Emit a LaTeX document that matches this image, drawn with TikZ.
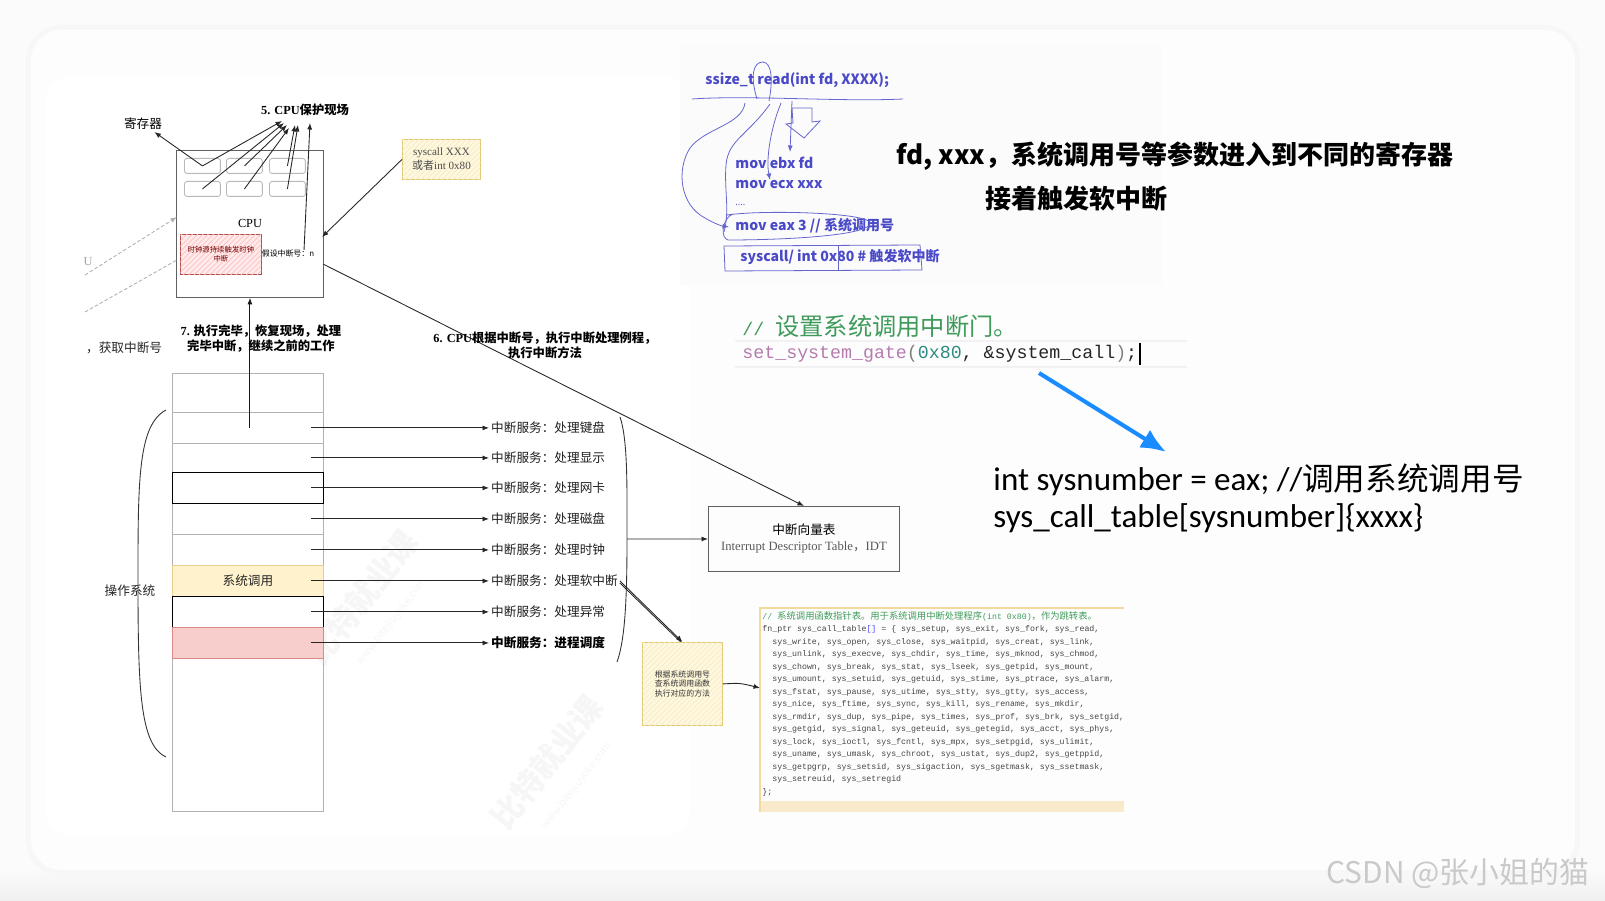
\documentclass[tikz,border=0pt]{standalone}
\usepackage{fontspec}
\setmainfont{Noto Sans CJK SC}
\setmonofont{Liberation Mono}
\newfontfamily\tnr{Liberation Serif}
\newfontfamily\calfont{Carlito}
\usetikzlibrary{arrows.meta,patterns,positioning}

\definecolor{handblue}{HTML}{4A4AC8}
\definecolor{notefill}{HTML}{FFF8DC}
\definecolor{notedraw}{HTML}{E2C76E}
\definecolor{sysfill}{HTML}{FFF2CC}
\definecolor{sysdraw}{HTML}{E6CF8A}
\definecolor{pinkfill}{HTML}{F8CECC}
\definecolor{pinkdraw}{HTML}{D98A88}
\definecolor{cmtgreen}{HTML}{3F9B5B}
\definecolor{fngate}{HTML}{B57BAE}
\definecolor{numteal}{HTML}{2E8C80}
\definecolor{bluearrow}{HTML}{1A8CFF}
\definecolor{tbledge}{HTML}{F2D9A0}

\begin{document}
\begin{tikzpicture}[x=0.02cm,y=-0.02cm,line width=0.5pt,>={Latex[length=1.3mm,width=1mm]},
  box/.style={draw=gray!75!black,inner sep=0,anchor=north west},
  cell/.style={draw=gray!60,inner sep=0,anchor=north west,minimum width=3.02cm},
  reg/.style={draw=gray!55,rounded corners=1.5pt,inner sep=0,anchor=north west,minimum width=0.72cm,minimum height=0.3cm},
  lbl/.style={font=\fontsize{7.2}{8.6}\selectfont,inner sep=1pt},
  steplbl/.style={font=\fontsize{7}{8.6}\selectfont\bfseries,align=center,inner sep=1pt},
  tinylbl/.style={font=\fontsize{4.5}{5.6}\selectfont,align=center,inner sep=0},
  note/.style={draw=notedraw,fill=notefill,postaction={pattern=north east lines,pattern color=notedraw!35},inner sep=0,anchor=north west,align=center},
  hand/.style={handblue!85,line width=0.45pt},
  handtxt/.style={text=handblue,font=\fontsize{8}{9}\selectfont\bfseries,anchor=west,inner sep=0},
  big/.style={font=\fontsize{14.8}{17}\selectfont\bfseries,inner sep=0},
  wm/.style={text=gray!7,font=\fontsize{18}{20}\selectfont\bfseries,rotate=52,inner sep=0},
  wmurl/.style={text=gray!7,font=\fontsize{6}{7}\selectfont,rotate=52,inner sep=0}]
  \useasboundingbox (0,0) rectangle (1605,901);
  % fond et carte
  \fill[gray!3] (0,0) rectangle (1605,901);
  \shade[top color=gray!3,bottom color=gray!12] (0,868) rectangle (1605,901);
  \fill[gray!6,rounded corners=20pt] (26,25) rectangle (1580,876);
  \fill[gray!1.5,rounded corners=17pt] (31,30) rectangle (1575,870);
  \fill[white,rounded corners=14pt] (45,77) rectangle (690,835);
  \fill[gray!3.5] (680,45) rectangle (1162,285);
  \fill[gray!1.5] (715,305) rectangle (1260,382);
  \node[wm] (wm1) at (362,598) {比特就业课};
  \node[wmurl] (wm1u) at (392,622) {www.bitejiuyeke.com};
  \node[wm] (wm2) at (547,762) {比特就业课};
  \node[wmurl] (wm2u) at (577,786) {www.bitejiuyeke.com};

  % CPU
  \node[box,minimum width=2.94cm,minimum height=2.94cm] (cpu) at (176,150) {};
  \foreach \c/\x in {1/184,2/226,3/269}
    \foreach \r/\y in {1/158,2/181}
      \node[reg] (r\r\c) at (\x,\y) {};
  \node[lbl,font=\tnr\fontsize{7}{8}\selectfont] (cpulbl) at (250,223) {CPU};
  \node[anchor=north west,draw=red!55!black!70,fill=red!8,postaction={pattern=north east lines,pattern color=red!25},
    minimum width=1.62cm,minimum height=0.8cm,inner sep=0,align=center,text=red!45!black,
    font=\fontsize{4.2}{5.4}\selectfont] (clk) at (180,234) {时钟源持续触发时钟\\中断};
  \node[tinylbl] (irqn) at (288,254) {假设中断号：n};
  \node[steplbl] (save) at (305,110) {{\tnr 5. CPU}保护现场};
  \node[lbl] (regs) at (143,124) {寄存器};
  \coordinate (t1) at (282,121); \coordinate (t2) at (284,123); \coordinate (t3) at (287,125);
  \coordinate (t4) at (289,128); \coordinate (t5) at (295,125); \coordinate (t6) at (298,125);
  \coordinate (t7) at (310,123);
  \foreach \r/\t in {r11/t1,r21/t2,r12/t3,r22/t4,r13/t5,r23/t6}
    \draw[->,gray!30!black] (\r.center) -- (\t);
  \draw[->,gray!30!black] (r11.center) -- (regs);
  \draw[->,gray!30!black] ([xshift=-6pt]irqn.north east) -- (t7);
  % syscall
  \node[note,minimum width=1.56cm,minimum height=0.8cm,text=gray!60!black,font=\fontsize{6.3}{8}\selectfont] (sys) at (402,139)
    {{\tnr syscall XXX}\\或者{\tnr int 0x80}};
  \coordinate (cpuin) at (322,237);
  \draw[->,gray!30!black] (sys.west) -- (cpuin);
  \coordinate (d1) at (85,275); \coordinate (d1e) at (177,217);
  \coordinate (d2) at (85,312); \coordinate (d2e) at (177,260);
  \draw[->,gray!60,dash pattern=on 2pt off 1.2pt] (d1) -- (d1e);
  \draw[gray!60,dash pattern=on 2pt off 1.2pt] (d2) -- (d2e);
  \node[lbl,font=\tnr\fontsize{7}{8}\selectfont,text=gray!70] (u) at (88,262) {U};
  \node[lbl,anchor=west,text=gray!30!black] (getn) at (84,348) {，获取中断号};

  % pile
  \foreach \n/\y/\h in {s0/373/39,s1/412/31,s2/443/29,s4/503/31,s5/534/31,s9/658/153}
    \node[cell,minimum height=\h*0.02cm] (\n) at (172,\y) {};
  \node[cell,draw=black,minimum height=0.62cm] (s3) at (172,472) {};
  \node[cell,draw=sysdraw,fill=sysfill,minimum height=0.62cm,font=\fontsize{7.2}{8.6}\selectfont,text=gray!30!black] (s6) at (172,565) {系统调用};
  \node[cell,draw=black,minimum height=0.62cm] (s7) at (172,596) {};
  \node[cell,draw=pinkdraw,fill=pinkfill,minimum height=0.62cm] (s8) at (172,627) {};
  \draw[->,gray!20!black] (s1.center -| cpu.south) -- (cpu.south);
  \node[steplbl] (step7) at (261,339) {{\tnr 7.} 执行完毕，恢复现场，处理\\完毕中断，继续之前的工作};
  \draw[gray!40!black] (166,410) .. controls (138,425) and (138,480) .. (138,580) .. controls (138,690) and (140,745) .. (166,757);
  \node[lbl,text=gray!30!black] (os) at (130,591) {操作系统};

  % services
  \coordinate (lx) at (489,0);
  \foreach \r/\t in {s1/处理键盘,s2/处理显示,s3/处理网卡,s4/处理磁盘,s5/处理时钟,s6/处理软中断,s7/处理异常}{
    \node[lbl,anchor=west,text=gray!25!black] (h\r) at (\r -| lx) {中断服务：\t};
    \draw[->,gray!30!black] ([xshift=-0.26cm]\r.east) -- (h\r);
  }
  \node[lbl,anchor=west,font=\fontsize{7.2}{8.6}\selectfont\bfseries] (hs8) at (s8 -| lx) {中断服务：进程调度};
  \draw[->,gray!30!black] ([xshift=-0.26cm]s8.east) -- (hs8);
  \draw[gray!40!black] (620,417) .. controls (628,440) and (627,490) .. (627,539) .. controls (627,600) and (625,640) .. (617,662);

  % IDT
  \node[box,minimum width=3.82cm,minimum height=1.3cm,align=center,font=\fontsize{7.2}{9.1}\selectfont] (idt) at (708,506)
    {中断向量表\\{\color{gray!70!black}\tnr Interrupt Descriptor Table}{\color{gray!70!black}，}{\color{gray!70!black}\tnr IDT}};
  \coordinate (rb) at (627,539);
  \draw[->,gray!30!black] (rb) -- (idt);
  \coordinate (c6) at (323,264);
  \draw[->,gray!30!black] (c6) -- (idt.north);
  \node[steplbl] (step6) at (545,345) {{\tnr 6. CPU}根据中断号，执行中断处理例程，\\执行中断方法};

  % table des appels
  \node[note,minimum width=1.6cm,minimum height=1.66cm,font=\fontsize{4.5}{5.5}\selectfont,text=gray!40!black] (look) at (642,642)
    {根据系统调用号\\查系统调用函数\\执行对应的方法};
  \draw[->,gray!30!black] (hs6.east) -- (look.north);
  \draw[gray!30!black] ([yshift=-1.2pt]hs6.east) -- ([xshift=-1pt]look.north);
  \node[anchor=north west,inner sep=0,minimum width=7.26cm,minimum height=4.06cm] (tbl) at (760,608) {};
  \fill[tbledge!55] (tbl.south west) rectangle ([yshift=0.22cm]tbl.south east);
  \draw[tbledge,line width=1pt] (tbl.south west) -- (tbl.north west) -- (tbl.north east);
  \coordinate (tin) at (760,688);
  \draw[->,gray!30!black] (look.east) .. controls (740,683) .. (tin);
  \node[anchor=north west,align=left,inner sep=0,text=black!72,font=\fontsize{4.7}{7.11}\selectfont\ttfamily] (code) at (762,611) {%
{\color{cmtgreen}// {\rmfamily\fontsize{5.3}{7.11}\selectfont 系统调用函数指针表。用于系统调用中断处理程序}(int 0x80){\rmfamily\fontsize{5.3}{7.11}\selectfont ，作为跳转表。}}\\
fn\_ptr sys\_call\_table{\color{blue!70}[]} = \{ sys\_setup, sys\_exit, sys\_fork, sys\_read,\\
\ \ sys\_write, sys\_open, sys\_close, sys\_waitpid, sys\_creat, sys\_link,\\
\ \ sys\_unlink, sys\_execve, sys\_chdir, sys\_time, sys\_mknod, sys\_chmod,\\
\ \ sys\_chown, sys\_break, sys\_stat, sys\_lseek, sys\_getpid, sys\_mount,\\
\ \ sys\_umount, sys\_setuid, sys\_getuid, sys\_stime, sys\_ptrace, sys\_alarm,\\
\ \ sys\_fstat, sys\_pause, sys\_utime, sys\_stty, sys\_gtty, sys\_access,\\
\ \ sys\_nice, sys\_ftime, sys\_sync, sys\_kill, sys\_rename, sys\_mkdir,\\
\ \ sys\_rmdir, sys\_dup, sys\_pipe, sys\_times, sys\_prof, sys\_brk, sys\_setgid,\\
\ \ sys\_getgid, sys\_signal, sys\_geteuid, sys\_getegid, sys\_acct, sys\_phys,\\
\ \ sys\_lock, sys\_ioctl, sys\_fcntl, sys\_mpx, sys\_setpgid, sys\_ulimit,\\
\ \ sys\_uname, sys\_umask, sys\_chroot, sys\_ustat, sys\_dup2, sys\_getppid,\\
\ \ sys\_getpgrp, sys\_setsid, sys\_sigaction, sys\_sgetmask, sys\_ssetmask,\\
\ \ sys\_setreuid, sys\_setregid\\
\};};

  % notes manuscrites
  \node[handtxt] (rd) at (705,80) {ssize\_t read(int fd, XXXX);};
  \node[handtxt] (ebx) at (735,163) {mov ebx fd};
  \node[handtxt] (ecx) at (735,185) {mov ecx xxx};
  \node[handtxt,font=\fontsize{5}{6}\selectfont] (dots) at (735,205) {....};
  \node[handtxt] (eax) at (735,226) {mov eax 3 // 系统调用号};
  \node[handtxt] (sc) at (740,257) {syscall/ int 0x80 \# 触发软中断};
  \draw[hand] (692,99) .. controls (750,95) and (840,102) .. (903,99);
  \draw[hand] (757,99) .. controls (750,76) and (753,62) .. (763,62) .. controls (772,63) and (773,80) .. (769,101);
  \draw[hand] (792,108) -- (812,108) -- (812,122) -- (820,121) -- (804,138) -- (786,124) -- (793,123) -- cycle;
  \draw[hand,->] (792,101) -- (790,152);
  \draw[hand,->] (781,103) .. controls (770,130) and (766,160) .. (770,180);
  \draw[hand,->] (745,103) .. controls (742,125) and (705,128) .. (690,148) .. controls (676,170) and (680,205) .. (705,218) .. controls (715,224) and (722,226) .. (729,227);
  \draw[hand] (770,104) .. controls (748,135) and (728,140) .. (726,165) .. controls (724,190) and (730,210) .. (724,232);
  \draw[hand] (727,215) .. controls (760,210) and (860,212) .. (870,222) .. controls (875,235) and (790,240) .. (728,240) .. controls (720,238) and (722,218) .. (733,214);
  \draw[hand] (724,246) -- (920,245) -- (922,270) -- (725,271) -- cycle;
  \draw[hand] (838,246) -- (838,270);

  % titres
  \node[big] (regtxt) at (1175,156) {fd, xxx，系统调用号等参数进入到不同的寄存器};
  \node[big] (trig) at (1076,199) {接着触发软中断};

  % porte d'appel
  \draw[gray!10,line width=1.2pt] (735,341) -- (1187,341);
  \draw[gray!10,line width=1.2pt] (735,367) -- (1187,367);
  \node[anchor=west,inner sep=0,font=\fontsize{10.4}{12}\selectfont\ttfamily,text=cmtgreen] (gcmt) at (742,326)
    {// {\rmfamily\fontsize{13.8}{15}\selectfont 设置系统调用中断门。}};
  \node[anchor=west,inner sep=0,font=\fontsize{10.4}{12}\selectfont\ttfamily,text=black!85] (gate) at (742,354)
    {{\color{fngate}set\_system\_gate}{\color{gray}(}{\color{numteal}0x80}, \&system\_call{\color{gray})};};
  \draw[line width=1.3pt] ([xshift=1.5pt,yshift=1pt]gate.north east) -- ([xshift=1.5pt,yshift=-1pt]gate.south east);
  \coordinate (ba) at (1039,373); \coordinate (bb) at (1166,452);
  \draw[bluearrow,line width=2.3pt,-{Latex[length=5mm,width=4.2mm]}] (ba) -- (bb);
  \node[anchor=west,inner sep=0,font=\calfont\fontsize{18.8}{22}\selectfont] (sysn) at (993,480)
    {int sysnumber = eax; //{\rmfamily\fontsize{18}{20}\selectfont 调用系统调用号}};
  \node[anchor=west,inner sep=0,font=\calfont\fontsize{18.8}{22}\selectfont] (callt) at (993,518)
    {sys\_call\_table[sysnumber]\{xxxx\}};

  \node[anchor=west,inner sep=0,font=\fontsize{17}{20}\selectfont,text=gray!42] (csdn) at (1326,873) {CSDN @张小姐的猫};
\end{tikzpicture}
\end{document}
